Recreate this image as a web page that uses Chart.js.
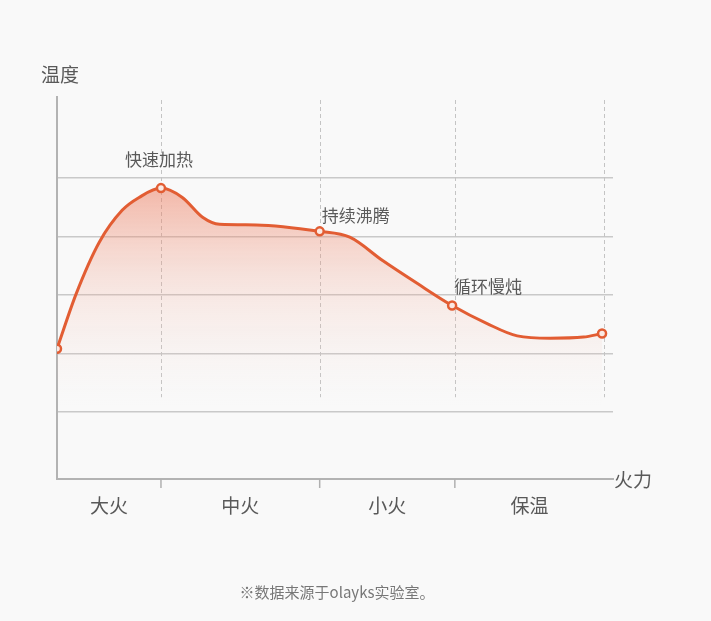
<!DOCTYPE html>
<html lang="zh">
<head>
  <meta charset="UTF-8" />
  <title>温度 / 火力</title>
  <script src="https://cdn.jsdelivr.net/npm/chart.js"></script>
  <style>
    html, body { margin: 0; padding: 0; background: #f9f9f9; }
    #wrap { width: 711px; height: 621px; }
  </style>
</head>
<body>
  <div id="wrap"><canvas id="heatChart" width="711" height="621"></canvas></div>
  <script>
    // phases along the x axis (boundaries in relative time units)
    const phaseLabels = ["大火", "中火", "小火", "保温"];
    const phaseEdges = [0, 1.9, 4.8, 7.27, 10];

    // temperature curve
    const curveX = [0, 0.35, 0.77, 1.19, 1.5, 1.9, 2.29, 2.66, 2.97, 3.64, 4.8, 5.35, 5.95, 6.58, 7.22, 7.86, 8.41, 9.01, 9.62, 9.96];
    const curveY = [2.08, 3.02, 3.9, 4.45, 4.67, 4.83, 4.67, 4.33, 4.21, 4.2, 4.09, 3.99, 3.59, 3.2, 2.82, 2.51, 2.3, 2.26, 2.28, 2.34];

    // marked points and their notes
    const markX = [0, 1.9, 4.8, 7.22, 9.96];
    const markNotes = ["", "快速加热", "持续沸腾", "循环慢炖", ""];

    const gridValues = [1, 2, 3, 4, 5];

    const lineColor = "#e25d33";
    const textColor = "#595959";
    const font = '"Noto Sans CJK SC", "Noto Sans", sans-serif';

    const points = curveX.map((x, i) => ({ x: x, y: curveY[i] }));

    const decor = {
      id: "decor",
      beforeDatasetsDraw(chart) {
        const { ctx, chartArea, scales } = chart;
        const xs = scales.x, ys = scales.y;
        ctx.save();
        // dashed phase separators
        ctx.strokeStyle = "#c4c4c4";
        ctx.lineWidth = 1;
        ctx.setLineDash([4, 3]);
        const dashEnd = ys.getPixelForValue(1.25);
        phaseEdges.slice(1).forEach(v => {
          const px = Math.round(xs.getPixelForValue(v)) + 0.5;
          ctx.beginPath();
          ctx.moveTo(px, chartArea.top + 3);
          ctx.lineTo(px, dashEnd);
          ctx.stroke();
        });
        ctx.restore();
      },
      afterDraw(chart) {
        const { ctx, chartArea, scales } = chart;
        const xs = scales.x, ys = scales.y;
        ctx.save();
        // tick marks under the axis
        ctx.strokeStyle = "#b0b0b0";
        ctx.lineWidth = 1.5;
        phaseEdges.slice(1, 4).forEach(v => {
          const px = xs.getPixelForValue(v);
          ctx.beginPath();
          ctx.moveTo(px, chartArea.bottom);
          ctx.lineTo(px, chartArea.bottom + 9);
          ctx.stroke();
        });

        ctx.fillStyle = textColor;
        ctx.textBaseline = "middle";
        // phase labels
        ctx.font = "19px " + font;
        ctx.textAlign = "center";
        phaseLabels.forEach((lab, i) => {
          const px = xs.getPixelForValue((phaseEdges[i] + phaseEdges[i + 1]) / 2);
          ctx.fillText(lab, px, chartArea.bottom + 27);
        });

        // axis titles
        ctx.font = "19px " + font;
        ctx.textAlign = "left";
        ctx.fillText("温度", 41, 75);
        ctx.fillText("火力", chartArea.right + 1, chartArea.bottom + 1);

        // point notes
        ctx.font = "17px " + font;
        markNotes.forEach((note, i) => {
          if (!note) return;
          const idx = curveX.indexOf(markX[i]);
          const px = xs.getPixelForValue(markX[i]);
          const py = ys.getPixelForValue(curveY[idx]);
          if (i === 1) {
            ctx.textAlign = "center";
            ctx.fillText(note, px - 2, py - 29);
          } else {
            ctx.textAlign = "left";
            ctx.fillText(note, px + 2, py - (i === 2 ? 16 : 19));
          }
        });

        // source note
        ctx.font = "15px " + font;
        ctx.fillStyle = "#777";
        ctx.textAlign = "center";
        ctx.fillText("※数据来源于olayks实验室。", 337, 592);
        ctx.restore();
      }
    };

    new Chart(document.getElementById("heatChart"), {
      type: "line",
      data: {
        datasets: [{
          data: points,
          borderColor: lineColor,
          borderWidth: 3,
          cubicInterpolationMode: "monotone",
          fill: { value: 1 },
          backgroundColor: (context) => {
            const chart = context.chart;
            const { ctx, chartArea, scales } = chart;
            if (!chartArea) return "rgba(236,120,90,0.2)";
            const top = scales.y.getPixelForValue(4.9);
            const bottom = scales.y.getPixelForValue(1.1);
            const g = ctx.createLinearGradient(0, top, 0, bottom);
            g.addColorStop(0, "rgba(236,118,88,0.52)");
            g.addColorStop(0.4, "rgba(240,150,125,0.24)");
            g.addColorStop(1, "rgba(248,225,218,0)");
            return g;
          },
          pointRadius: (c) => markX.includes(curveX[c.dataIndex]) ? 4 : 0,
          pointHoverRadius: 0,
          pointBackgroundColor: "#fbe9e3",
          pointBorderColor: lineColor,
          pointBorderWidth: 2.5
        }]
      },
      options: {
        responsive: false,
        animation: false,
        events: [],
        layout: { padding: { left: 57, top: 97, right: 98, bottom: 134 } },
        plugins: { legend: { display: false }, tooltip: { enabled: false } },
        scales: {
          x: {
            type: "linear",
            min: 0,
            max: 10.16,
            ticks: { display: false },
            grid: { display: false },
            border: { display: true, color: "#b3b3b3", width: 2 }
          },
          y: {
            min: -0.15,
            max: 6.39,
            afterBuildTicks: (axis) => { axis.ticks = gridValues.map(v => ({ value: v })); },
            ticks: { display: false },
            grid: { color: "#c9c9c9", lineWidth: 1.5, drawTicks: false },
            border: { display: true, color: "#b3b3b3", width: 2 }
          }
        }
      },
      plugins: [decor]
    });
  </script>
</body>
</html>
